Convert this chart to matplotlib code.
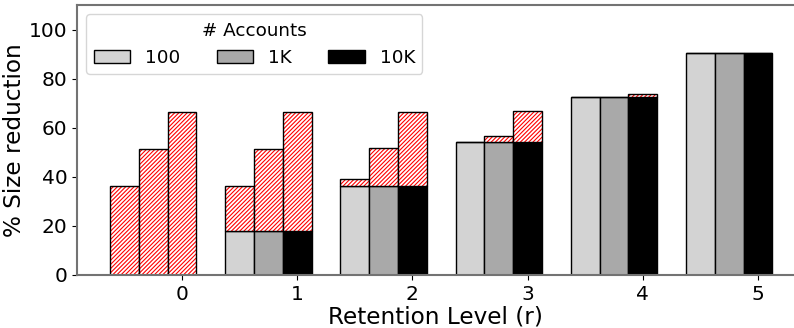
import numpy as np
import matplotlib
matplotlib.use("Agg")
import matplotlib.pyplot as plt

# retention levels and account counts
levels = [0, 1, 2, 3, 4, 5]
accounts = ["100", "1K", "10K"]
colors = ["lightgray", "darkgray", "black"]

# solid part (same for every account count)
base = [0, 18.1, 36.2, 54.3, 72.4, 90.5]
# total height (solid + hatched part)
total_100 = [36.1, 36.1, 39.0, 54.3, 72.4, 90.5]
total_1k = [51.5, 51.5, 51.8, 56.6, 72.4, 90.5]
total_10k = [66.3, 66.3, 66.4, 66.7, 73.8, 90.5]
totals = [total_100, total_1k, total_10k]

plt.rcParams["hatch.linewidth"] = 0.8

fig = plt.figure(figsize=(7.94, 3.28), dpi=100)
ax = fig.add_axes([0.097, 0.1616, 0.903, 0.823])

x = np.array(levels, dtype=float)
w = 0.25
offsets = [-0.5, -0.25, 0.0]

handles = []
for i in range(3):
    pos = x + offsets[i]
    top = np.array(totals[i]) - np.array(base)
    h = ax.bar(pos, base, w, color=colors[i], edgecolor="black", linewidth=1)
    handles.append(h)
    ax.bar(pos, top, w, bottom=base, color="white", edgecolor="red",
           hatch="////////", linewidth=0)
    ax.bar(pos, top, w, bottom=base, fill=False, edgecolor="black",
           linewidth=1)

ax.set_xlim(-0.911, 5.312)
ax.set_ylim(0, 110)
ax.set_xticks(x)
ax.set_xticklabels([str(l) for l in levels])
ax.set_yticks([0, 20, 40, 60, 80, 100])
ax.tick_params(labelsize=14.5)

ax.set_xlabel("Retention Level (r)", fontsize=16.7, labelpad=1)
ax.set_ylabel("% Size reduction", fontsize=16.7, labelpad=2)

for s in ["left", "top", "bottom"]:
    ax.spines[s].set_color("0.45")
    ax.spines[s].set_linewidth(1.5)
ax.spines["right"].set_visible(False)

ax.legend(handles, accounts, title="# Accounts", ncol=3, loc="upper left",
          fontsize=13.2, title_fontsize=13.2)

fig.savefig("out.png", dpi=100)
